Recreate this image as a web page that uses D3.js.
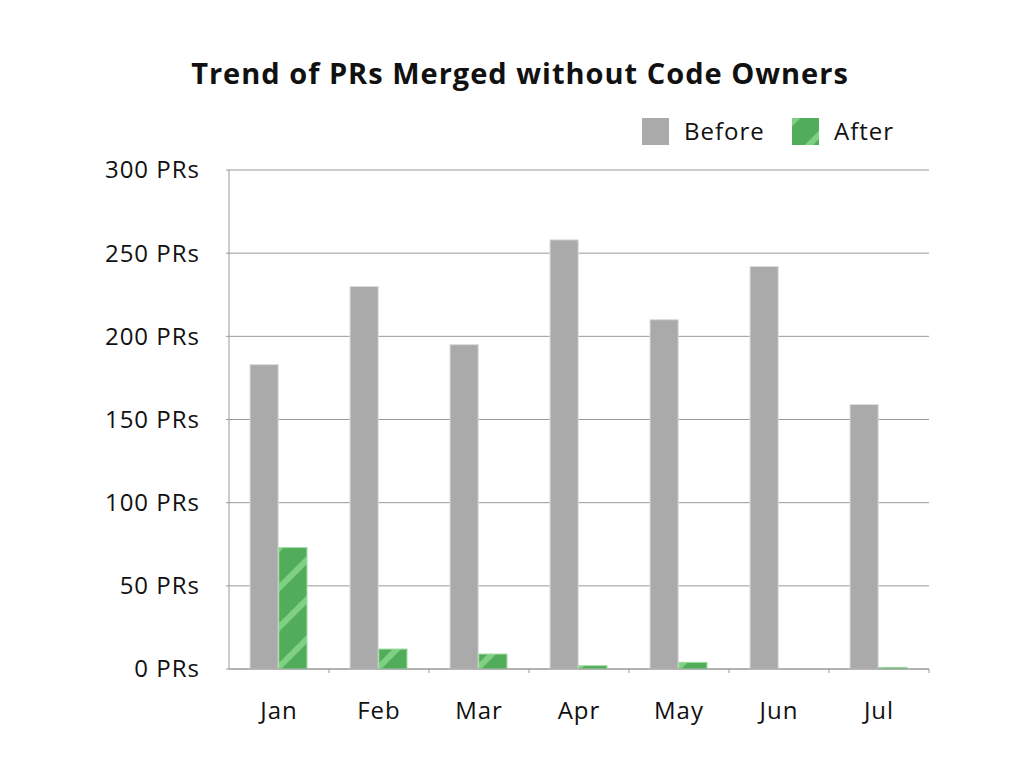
<!DOCTYPE html>
<html>
<head>
<meta charset="utf-8">
<script src="https://cdn.jsdelivr.net/npm/d3@7"></script>
<style>
  body { margin: 0; background: #fff; }
  text { font-family: "Open Sans", "Noto Sans", sans-serif; fill: #111; }
</style>
</head>
<body>
<script>
// data
let months = ['Jan', 'Feb', 'Mar', 'Apr', 'May', 'Jun', 'Jul'];
let before = [183, 230, 195, 258, 210, 242, 159];
let after = [73, 12, 9, 2, 4, 0, 1];
let series = ['Before', 'After'];
let yTicks = [0, 50, 100, 150, 200, 250, 300];

let width = 1024, height = 768;
let margin = {left: 229, right: 95, top: 170, bottom: 99};

let svg = d3.select('body').append('svg')
  .attr('width', width)
  .attr('height', height);

// striped pattern for the "After" series
let defs = svg.append('defs');
let pat = defs.append('pattern')
  .attr('id', 'stripes')
  .attr('patternUnits', 'userSpaceOnUse')
  .attr('width', 28).attr('height', 28)
  .attr('patternTransform', 'rotate(45)');
pat.append('rect').attr('width', 28).attr('height', 28).attr('fill', '#52ad5a');
pat.append('rect').attr('x', 0).attr('width', 6).attr('height', 28).attr('fill', '#7fd082');

let x = d3.scaleBand()
  .domain(months)
  .range([margin.left, width - margin.right]);

let xInner = d3.scaleBand()
  .domain(series)
  .range([21, 78])
  .paddingInner(0.02);

let y = d3.scaleLinear()
  .domain([0, 300])
  .range([height - margin.bottom, margin.top]);

// gridlines
svg.append('g')
  .selectAll('line')
  .data(yTicks)
  .enter()
  .append('line')
    .attr('x1', margin.left - 3)
    .attr('x2', width - margin.right)
    .attr('y1', d => y(d))
    .attr('y2', d => y(d))
    .attr('stroke', '#999')
    .attr('stroke-width', 1);

// left axis line
svg.append('line')
  .attr('x1', margin.left).attr('x2', margin.left)
  .attr('y1', y(300)).attr('y2', y(0))
  .attr('stroke', '#999');

// y labels
svg.append('g')
  .selectAll('text')
  .data(yTicks)
  .enter()
  .append('text')
    .attr('x', 200)
    .attr('y', d => y(d))
    .attr('dy', '0.35em')
    .attr('text-anchor', 'end')
    .attr('font-size', '24px')
    .style('letter-spacing', '1px')
    .text(d => d + ' PRs');

// bars
let groups = svg.append('g')
  .selectAll('g')
  .data(months)
  .enter()
  .append('g')
    .attr('transform', d => 'translate(' + x(d) + ',0)');

groups.append('rect')
  .attr('x', xInner('Before'))
  .attr('width', xInner.bandwidth())
  .attr('y', (d, i) => y(before[i]))
  .attr('height', (d, i) => y(0) - y(before[i]))
  .attr('fill', '#aaaaaa')
  .attr('stroke', '#dddddd')
  .attr('stroke-width', 1);

groups.append('rect')
  .attr('x', xInner('After'))
  .attr('width', xInner.bandwidth())
  .attr('y', (d, i) => y(after[i]))
  .attr('height', (d, i) => y(0) - y(after[i]))
  .attr('fill', 'url(#stripes)')
  .attr('stroke', (d, i) => after[i] > 0 ? '#9fdca2' : 'none')
  .attr('stroke-width', 1);

// x axis line with ticks at band edges
svg.append('line')
  .attr('x1', margin.left).attr('x2', width - margin.right)
  .attr('y1', y(0)).attr('y2', y(0))
  .attr('stroke', '#999');

svg.append('g')
  .selectAll('line')
  .data(months)
  .enter()
  .append('line')
    .attr('x1', d => x(d) + x.bandwidth())
    .attr('x2', d => x(d) + x.bandwidth())
    .attr('y1', y(0))
    .attr('y2', y(0) + 4)
    .attr('stroke', '#999');

// x labels
svg.append('g')
  .selectAll('text')
  .data(months)
  .enter()
  .append('text')
    .attr('x', d => x(d) + x.bandwidth() / 2)
    .attr('y', 719)
    .attr('text-anchor', 'middle')
    .attr('font-size', '24px')
    .style('letter-spacing', '1px')
    .text(d => d);

// title
svg.append('text')
  .attr('x', 520)
  .attr('y', 84)
  .attr('text-anchor', 'middle')
  .attr('font-size', '29px')
  .attr('font-weight', 'bold')
  .style('letter-spacing', '1px')
  .text('Trend of PRs Merged without Code Owners');

// legend
let legendX = [642, 792];
let legend = svg.append('g')
  .selectAll('g')
  .data(series)
  .enter()
  .append('g')
    .attr('transform', (d, i) => 'translate(' + legendX[i] + ',118)');
legend.append('rect')
  .attr('width', 27)
  .attr('height', 27)
  .attr('fill', d => d === 'Before' ? '#aaaaaa' : 'url(#stripes)');
legend.append('text')
  .attr('x', 42)
  .attr('y', 22)
  .attr('font-size', '24px')
  .style('letter-spacing', '1px')
  .text(d => d);
</script>
</body>
</html>
